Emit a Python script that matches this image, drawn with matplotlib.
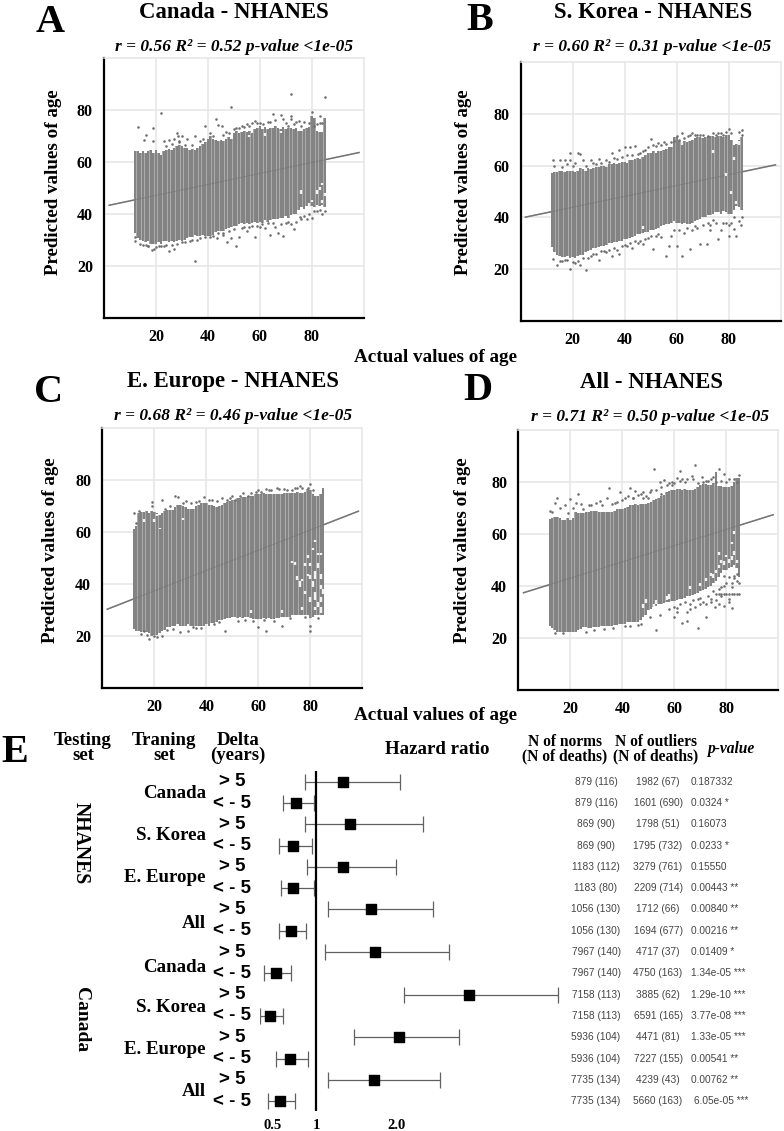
import matplotlib
matplotlib.use("Agg")
import matplotlib.pyplot as plt
import matplotlib.transforms as mtrans
import numpy as np

W, H = 784, 1131
SERIF = "Liberation Serif"
SANS = "Liberation Sans"
GREY = "#838383"

ages = np.arange(12, 86)

a_top = [64, 64, 63.5, 64, 63.5, 64, 64.5, 63.5, 64.5, 63.5, 62.5, 64, 64.5, 65, 64.5, 65.5, 66, 66.5, 66, 65.5,
         65.5, 64.5, 65, 64.5, 65.5, 66, 67, 67.5, 69, 70, 69, 68.5, 68, 68.5, 68, 69, 69.5, 69, 71, 72,
         71, 71.5, 72, 71.5, 72, 71, 72.5, 73, 74, 72.5, 73.5, 72.5, 73, 73, 74, 73, 72.5, 73.5, 72.5, 73,
         73, 72.5, 73, 72, 72, 72.5, 73, 73.5, 77.5, 77, 72, 71.5, 71.5, 77]
a_low = [32.5, 30.5, 30, 29.5, 29, 29.5, 28.5, 28.5, 28.5, 29, 28.5, 29.5, 29.5, 29, 29.5, 29, 29.5, 30, 29.5, 30,
         30.5, 31, 31, 32, 31.5, 31.5, 32, 31.5, 31.5, 31.5, 32, 33, 33.5, 33.5, 33.5, 34, 34.5, 35, 35.5, 35.5,
         36, 36.5, 36, 36.5, 36, 36.5, 37, 36.5, 37, 36.5, 37.5, 37, 37.5, 38, 38, 38, 38.5, 38.5, 39, 38.5,
         39.5, 40, 40, 41.5, 42.5, 42, 43, 42.5, 43, 42.5, 43.5, 43, 43.5, 42.5]
a_out_x = [13, 16, 15.3, 19, 22, 19, 23, 25, 27, 28, 28.5, 30, 32, 35, 39, 43, 44, 45.4, 49, 50, 54, 58, 61.4, 65, 68,
           72, 72, 72, 75, 79, 80, 83, 85, 83.2, 35, 51, 19.4, 18.5, 25, 27, 23, 16, 47.3, 43.5, 52, 55, 58, 64, 69,
           73, 67, 78, 80, 84, 75.5, 12, 12, 14, 17, 21, 30, 33, 36, 41, 46, 49, 53, 56, 60, 62, 66, 70,
           24, 26, 29, 29, 31, 34, 37, 38, 41, 42, 46, 47, 48, 51, 52, 53, 55, 56, 57, 59, 60, 63, 64, 66, 69, 70,
           71, 73, 74, 76, 77, 81, 82, 84,
           15, 17, 20, 22, 24, 26, 28, 31, 34, 37, 39, 42, 44, 46, 48, 50, 54, 57, 59, 61, 63, 65, 68, 71, 72, 74, 76, 77, 79, 81, 82, 83, 85]
a_out_y = [73.6, 70.5, 68.4, 73, 78.8, 68, 68, 68.5, 68.8, 71, 70, 70, 69, 70, 73.8, 76.4, 74.3, 74, 81, 72.6, 73.3,
           75.8, 74.5, 78.4, 78, 86, 77.8, 76.5, 75.8, 75, 79.3, 77.5, 85, 75, 22, 27.6, 26.4, 26, 25.7, 26.6, 27.6,
           27.9, 29, 30.8, 31.2, 33.4, 31.2, 32, 31.5, 34, 32.8, 38, 38.3, 39.8, 38.6, 29.5, 31, 28.5, 27.5, 27.8,
           29, 29.5, 30, 31, 32, 30.5, 34.5, 35, 35, 34.5, 35, 36.5,
           66, 67, 68, 67.5, 66.5, 66.5, 68, 69, 71, 70, 70.5, 71.5, 71, 73, 73, 74, 74.5, 74, 75, 75, 75, 75.5, 75.5,
           76, 76.5, 75, 74, 74.5, 75.5, 74, 75.5, 74, 74.5, 75,
           28, 27.5, 27.3, 27.5, 28, 28, 28.5, 29, 30, 30.5, 31, 31.5, 32.5, 32.5, 33.5, 34, 35, 35.5, 35.5, 36, 36.5,
           36.5, 36, 37, 36, 37, 38, 39, 40, 41, 41, 41.5, 41]
a_gaps = [(83, 49, 50.5), (82, 47.5, 49), (84, 44, 45.5), (79, 42.5, 44), (76, 47.5, 49), (68, 71, 72), (62, 70, 71),
          (56, 69.5, 70.5), (84, 51, 52), (85, 47, 48), (80, 44.5, 45.5)]

b_top = [57, 57.5, 57.5, 58, 58, 57.5, 58, 58, 58, 57.5, 58, 59, 58.5, 58, 59, 58.5, 59, 59.5, 59.5, 60,
         60, 59.5, 60.5, 60.5, 61, 60.5, 61, 61.5, 61.5, 61, 62, 62, 62.5, 63, 62.5, 63.5, 64, 65, 65, 65.5,
         65, 65.5, 65.5, 66, 66.5, 67, 67, 71, 71, 69.5, 69, 69.5, 69, 69.5, 70, 70.5, 71, 71, 70.5, 71,
         71.5, 71.5, 71.5, 71, 71.5, 71.5, 71, 72, 72, 70, 68, 68.5, 70, 71]
b_low = [28.5, 26.5, 25.5, 25, 24.7, 24.7, 25, 24.5, 24.7, 24.5, 25, 25.5, 25.5, 26.5, 27, 27.5, 28, 28, 28.5, 29,
         29, 29.5, 30, 30, 30.5, 30.5, 31, 31, 31.5, 31.7, 32, 32.5, 33, 33.5, 33.7, 34, 34.5, 34.5, 35, 35,
         35.5, 36, 36.5, 37, 37.5, 37.5, 38, 38.5, 38, 38, 37.5, 38, 37.5, 37.5, 38, 38.5, 39, 39.5, 40, 40,
         41, 41, 41.5, 42, 42, 41.5, 42.5, 42, 41.5, 41.4, 43, 44.5, 44, 42.7]
b_out_x = [19, 22, 23, 12.5, 15, 17, 19, 24, 27, 30, 35, 38, 40, 42, 44, 50, 53, 55, 60, 62, 64.4, 67, 70, 76, 80, 85,
           85, 25, 19, 14, 23, 12.5, 30, 35, 38, 56, 62, 51, 57, 60, 65, 69, 71.6, 76, 80, 83, 84.7, 84, 80, 82, 77,
           73, 43, 47, 16, 18, 21, 26, 28, 32, 33, 37, 41, 46, 48, 52, 58, 63, 68, 73, 78,
           13, 16, 18, 20, 21, 25, 28, 29, 31, 33, 34, 36, 37, 39, 41, 43, 45, 46, 47, 48, 49, 51, 52, 54, 56, 58, 59,
           61, 63, 65, 66, 68, 69, 72, 74, 75, 77, 78, 79, 81, 84,
           15, 17, 20, 22, 24, 27, 29, 31, 34, 36, 39, 40, 42, 44, 45, 49, 50, 53, 54, 59, 61, 64, 66, 67, 70, 72, 74, 75, 79, 81, 82, 85]
b_out_y = [65, 64.8, 64.3, 62, 62, 62, 62, 62, 62, 62.6, 65, 66, 67, 67, 67.5, 70.3, 68.8, 69, 71.6, 72.5, 71.6, 72,
           72, 72.6, 74, 73.8, 72, 19.5, 20.2, 21.7, 21.5, 24, 23.4, 25, 25.7, 25, 25, 27.9, 28.8, 28.8, 27.9, 29.8,
           29.8, 31.5, 33, 33, 37, 38.8, 37, 35.6, 35, 35, 28, 29.8, 23, 23.5, 22.5, 24.5, 26, 27, 26.5, 27.5, 29,
           31, 31.5, 33, 33, 34, 36, 37, 38,
           60, 59.5, 60.5, 60, 61, 60, 61, 60.5, 61, 62, 61.5, 63, 62.5, 63.5, 64, 64, 64.5, 65, 65.5, 66, 67, 68, 67.5,
           68, 68.5, 69, 69.5, 70, 70.5, 72, 72.5, 72, 72, 71.5, 72.5, 72, 72.5, 72, 73, 72.5, 73,
           23, 23.5, 22.8, 23, 24.5, 25, 26, 27, 27.5, 28, 29, 29.5, 30, 31, 30, 32, 33, 33.5, 32.5, 35, 35, 36, 35,
           36.5, 37, 38, 39, 38, 38, 38, 40, 40]
b_gaps = [(81, 49, 50), (83, 45, 46.5), (82, 62, 63.5), (79, 56, 57), (62, 68, 69), (47, 35.5, 36.5), (74, 65, 66), (84, 68, 69.5)]

c_top = [61, 62.5, 67.5, 67.7, 67.7, 68, 67.5, 68, 67.7, 67.5, 66.5, 67.5, 68, 68.4, 68.5, 68.5, 69.5, 70.5, 70.3, 70,
         69.5, 69, 69, 69, 70, 70.5, 71, 71, 71, 70.5, 70.5, 70, 69.7, 70, 70.5, 71, 71.5, 72, 72.5, 72.5,
         73, 73, 73.5, 73.5, 74, 74, 74, 74.5, 74.5, 74.5, 75, 74.8, 74.8, 74.5, 74.8, 74.5, 74.5, 74.5, 75, 75,
         75, 75, 75, 75.5, 75, 75, 75.5, 76.7, 76, 74.8, 74, 74, 74.5, 77]
c_low = [22.7, 22, 22, 21.7, 21.5, 21.5, 21, 20, 20.5, 20.2, 21, 22, 22.5, 23.4, 23.5, 24, 24, 24.5, 24, 24,
         24, 24.5, 24, 24, 24, 24, 24, 24, 24.5, 24, 25, 25, 25.5, 26, 26, 26.5, 27, 27, 27.2, 27.2,
         27, 27.2, 27, 27.2, 27.2, 27, 26.5, 26.5, 26.6, 26.6, 27, 26.6, 27, 26.6, 26.6, 27, 27, 27.2, 27.2, 27.2,
         27.5, 28, 28, 27.9, 27.9, 28, 28, 28, 27, 27.5, 28, 28, 28, 28]
c_out_x = [19.2, 19.2, 23, 28, 29, 32, 39, 48, 50, 60, 64, 67, 70, 74, 76, 80, 18, 20, 23, 30, 33, 47, 60, 63, 69, 80,
           80, 83, 35, 16, 15, 17, 21, 25, 27, 36, 38, 43, 45, 52, 55, 58, 62, 66, 72, 78,
           12, 13, 14, 24, 26, 31, 34, 36, 37, 41, 42, 44, 46, 49, 51, 53, 54, 56, 57, 59, 61, 63, 65, 68, 71, 73, 75, 77, 79, 81]
c_out_y = [71.4, 70, 72.3, 74, 73.3, 72, 73.6, 72.3, 73.8, 76, 76, 77, 76.5, 77, 77.7, 78.5, 18.7, 20, 20, 21.7, 22,
           22, 23.6, 22, 24, 24, 22, 27, 23.3, 21.8, 20.8, 20.5, 19.8, 22.5, 22.8, 23, 23.2, 24.8, 25.2, 25.8, 26,
           25.8, 26, 25.8, 27, 27.5,
           67.5, 63.5, 68, 69, 70, 71, 71, 71.5, 72, 72.5, 72.5, 72, 73, 73, 72.5, 74, 75, 74, 75, 75.5, 75.5, 76.5,
           76, 76.5, 76, 76, 77, 77, 77, 76]
c_gaps = [(74, 47.5, 48.5), (75, 41.5, 43), (76, 39, 41), (77, 41, 42), (78, 36, 37.5), (78, 47, 48), (79, 43, 44),
          (79, 50, 51), (80, 33, 35), (80, 42, 43.5), (80, 47, 48), (81, 39, 41), (81, 53, 54), (82, 30, 31),
          (82, 34, 37), (82, 42, 45), (82, 56, 57), (83, 31, 33), (83, 46, 48), (83, 51, 52), (84, 29, 31),
          (84, 33, 35), (84, 38, 39.5), (84, 42, 44), (84, 51, 52), (85, 36, 38), (77, 30, 31), (69, 29, 30), (57, 29, 30),
          (73, 48, 49), (20, 64, 65), (21, 66, 67), (31, 64.5, 65.5), (16, 64, 65), (22, 61, 61.7)]

d_top = [65.8, 66, 66.5, 66.5, 66, 65.5, 65.5, 66, 65.2, 66, 68.5, 68, 68, 67.9, 68.5, 68.5, 69, 69, 69, 68.5,
         68.5, 68.5, 68.5, 68.5, 68.5, 69, 69.5, 69.5, 69.8, 70, 70.5, 71, 71, 71.7, 71, 71.5, 71.5, 71.7, 72, 72.5,
         73, 73.6, 74, 74.5, 75, 76.2, 76.5, 77, 77, 77.5, 77.5, 77, 77.5, 77, 76.9, 77, 77.5, 78, 79, 79.4,
         79.4, 79, 78.8, 79.5, 84, 78.5, 78.4, 78, 78, 78, 78.5, 80, 81.4, 81.4]
d_low = [24.8, 24, 23, 22.5, 22.2, 22.5, 22.2, 22.5, 22.2, 22.2, 22.5, 23, 23.5, 24.2, 24.2, 24, 24, 24.2, 24.2, 24.2,
         24.5, 24.5, 24.8, 24.8, 24.8, 25, 25, 25.2, 25.5, 25.5, 26, 26, 26, 26, 26, 27, 28, 29, 30.6, 31,
         32, 32.5, 33, 33, 33.5, 34, 34, 34.4, 34.4, 34.5, 35, 35, 35.5, 36, 36, 36.5, 37, 37.5, 38, 38.5,
         39, 39.5, 40, 41, 42, 43.5, 45, 46, 46, 47, 47.5, 48, 47, 43.4]
d_out_x = [15, 14, 20, 23, 35, 39, 43, 45, 52, 54.5, 56, 61, 62, 64, 68, 66.7, 70.5, 77, 79, 85, 75, 50.6, 49, 31.4, 34,
           53, 69, 63, 60, 65, 72, 82, 79, 75.6, 54.5, 50.6, 47, 43, 36.5, 14, 17, 26, 29, 33, 41, 46, 58, 61, 66, 70,
           74, 77, 81, 12, 13, 18, 22, 24, 27, 37, 44, 48, 55, 59,
           16, 19, 21, 25, 28, 30, 32, 36, 38, 40, 41, 42, 44, 46, 47, 48, 50, 51, 53, 55, 57, 58, 59, 60, 62, 63, 65,
           67, 69, 71, 72, 73, 74, 76, 78, 80, 81, 83, 84,
           60, 61, 62, 64, 65, 66, 67, 68, 69, 70, 71, 72, 73, 74, 75, 76, 77, 78, 78, 79, 80, 81, 82, 83, 84, 79, 82, 81, 83, 84, 85]
d_out_y = [73.7, 72, 73.3, 75.4, 77.7, 76, 77.7, 76.7, 85, 80, 80.8, 81.4, 84.2, 80, 86.5, 82.4, 82, 85, 83, 82.7,
           81.8, 76, 74.7, 72.8, 73.7, 23, 23.8, 25.6, 28, 26.7, 28.2, 31.5, 32.4, 31.8, 29, 28, 25.4, 24.5, 24, 22,
           21.8, 22.5, 23, 23.5, 24.5, 25, 31, 30, 31, 33, 34, 33, 34, 69, 68.5, 71, 72, 71.5, 71, 72, 74, 74, 75.5, 79,
           70, 68, 70, 69.5, 71, 72, 71, 71.5, 72.5, 73, 74, 74.5, 74, 75, 75.5, 76, 74, 77, 77, 78, 79, 79.5, 80,
           79.5, 80.5, 81, 81, 81, 79.5, 80, 80.5, 80.5, 81, 80, 80.5, 80, 81, 81, 80,
           32, 31.5, 33, 34, 30, 33, 34.5, 32, 35, 35.5, 34, 33, 36, 35, 38, 34.5, 39, 36, 39.5, 40, 41, 35, 39.5, 43,
           42, 44, 41, 43.5, 44, 44.5, 41]
d_gaps = [(48, 31.5, 33), (49, 33.5, 35), (52, 32, 33), (53, 33, 34.5), (57, 34.5, 36), (58, 35, 37), (66, 39, 40),
          (70, 40, 41), (72, 42, 43), (74, 44, 45), (75, 43, 44.5), (76, 45, 46), (77, 47, 48), (78, 49, 50),
          (79, 48, 49.5), (80, 51, 52), (81, 49, 50.5), (82, 50, 51.5), (83, 52, 53.5), (84, 49, 50), (82, 56, 57),
          (77, 52, 53), (83, 60, 61)]

line_a = ([2, 98.2], [43.3, 63.6])
line_b = ([1.9, 98], [40.1, 60.3])
line_c = ([1.9, 98.5], [30.3, 68])
line_d = ([2, 98], [37.4, 67.4])

titles = ["Canada - NHANES", "S. Korea - NHANES", "E. Europe - NHANES", "All - NHANES"]
stats = ["r = 0.56 R² = 0.52 p-value <1e-05", "r = 0.60 R² = 0.31 p-value <1e-05",
         "r = 0.68 R² = 0.46 p-value <1e-05", "r = 0.71 R² = 0.50 p-value <1e-05"]

training_sets = ["Canada", "S. Korea", "E. Europe", "All"] * 2
hr = [1.33, 0.75, 1.42, 0.71, 1.33, 0.71, 1.68, 0.68, 1.73, 0.49, 2.91, 0.42, 2.03, 0.67, 1.72, 0.54]
hr_low = [0.86, 0.58, 0.86, 0.53, 0.88, 0.56, 1.14, 0.53, 1.11, 0.35, 2.10, 0.30, 1.47, 0.50, 1.15, 0.40]
hr_high = [2.04, 0.975, 2.33, 0.95, 1.99, 0.975, 2.46, 0.87, 2.66, 0.68, 4.02, 0.58, 2.78, 0.89, 2.55, 0.73]
norms = ["879 (116)", "879 (116)", "869 (90)", "869 (90)", "1183 (112)", "1183 (80)", "1056 (130)", "1056 (130)",
         "7967 (140)", "7967 (140)", "7158 (113)", "7158 (113)", "5936 (104)", "5936 (104)", "7735 (134)", "7735 (134)"]
outliers = ["1982 (67)", "1601 (690)", "1798 (51)", "1795 (732)", "3279 (761)", "2209 (714)", "1712 (66)", "1694 (677)",
            "4717 (37)", "4750 (163)", "3885 (62)", "6591 (165)", "4471 (81)", "7227 (155)", "4239 (43)", "5660 (163)"]
p_values = ["0.187332", "0.0324 *", "0.16073", "0.0233 *", "0.15550", "0.00443 **", "0.00840 **", "0.00216 **",
            "0.01409 *", "1.34e-05 ***", "1.29e-10 ***", "3.77e-08 ***", "1.33e-05 ***", "0.00541 **", "0.00762 **",
            "6.05e-05 ***"]

fig = plt.figure(figsize=(W / 100, H / 100), dpi=100, facecolor="white")


def put(x, y, s, size, family=SERIF, weight="bold", style="normal", color="black", ha="center", rotation=0, ls=0.85):
    fig.text(x / W, 1 - y / H, s, fontsize=size, family=family, weight=weight, style=style, color=color,
             ha=ha, va="center", rotation=rotation, linespacing=ls, rotation_mode="anchor" if rotation else None)


def scatter_panel(box, top, low, out_x, out_y, gaps, line):
    l, t, r, b = box
    ax = fig.add_axes([l / W, 1 - b / H, (r - l) / W, (b - t) / H])
    ax.set_xlim(0, 100)
    ax.set_ylim(0, 100)
    ax.set_xticks([20, 40, 60, 80])
    ax.set_yticks([20, 40, 60, 80])
    ax.grid(color="#e6e6e6", lw=1.1, zorder=0)
    ax.set_axisbelow(True)
    for side in ["top", "right"]:
        ax.spines[side].set_color("#e6e6e6")
        ax.spines[side].set_linewidth(1.1)
    for side in ["left", "bottom"]:
        ax.spines[side].set_linewidth(1.6)
    ax.tick_params(length=0, pad=8)
    for lab in ax.get_xticklabels() + ax.get_yticklabels():
        lab.set_family(SERIF)
        lab.set_weight("bold")
        lab.set_fontsize(11.5)
    ax.plot(line[0], line[1], color="#777777", lw=1.1, zorder=2)
    ax.fill_between(ages, low, top, step="mid", color="#adadad", lw=0, zorder=3)
    ax.vlines(ages, low, top, color=GREY, lw=1.45, zorder=3)
    ax.plot(line[0], line[1], color="#737373", lw=0.8, alpha=0.5, zorder=4)
    for age, y0, y1 in gaps:
        ax.vlines(age, y0, y1, color="white", lw=1.7, alpha=0.9, zorder=4)
    ax.scatter(out_x, out_y, s=3.4, color="#6e6e6e", linewidths=0, zorder=5)
    return ax


scatter_panel((104, 58, 363.7, 317.7), a_top, a_low, a_out_x, a_out_y, a_gaps, line_a)
scatter_panel((520.5, 62, 780.7, 321), b_top, b_low, b_out_x, b_out_y, b_gaps, line_b)
scatter_panel((102.3, 428, 362.3, 688), c_top, c_low, c_out_x, c_out_y, c_gaps, line_c)
d_x = d_out_x + [76, 77, 78, 79, 80, 81, 82, 83, 84, 85]
d_y = d_out_y + [37] * 10
scatter_panel((518.3, 430, 778.3, 690), d_top, d_low, d_x, d_y, d_gaps, line_d)

put(50, 23, "A", 29)
put(480, 21, "B", 29)
put(49, 393, "C", 29)
put(478, 390, "D", 29)
put(15, 752, "E", 29)

for (x, y), s in zip([(234, 13), (653, 13), (233, 381), (652, 382)], titles):
    put(x, y, s, 16.4)
for (x, y), s in zip([(234, 47), (652, 47), (233, 416), (650, 417)], stats):
    put(x, y, s, 12.5, style="italic")
for x, y in [(53, 182), (464, 182), (51, 550), (463, 550)]:
    put(x, y, "Predicted values of age", 13.7, rotation=90)
put(436, 357, "Actual values of age", 13.8)
put(435, 716, "Actual values of age", 13.8)

# panel E, hazard ratios
ax = fig.add_axes([260 / W, 1 - 1111 / H, 310 / W, 340 / H])
rows = np.arange(16)
ax.set_xlim(0.294, 4.17)
ax.set_ylim(15.46, -0.5)
ax.errorbar(hr, rows, xerr=[np.array(hr) - np.array(hr_low), np.array(hr_high) - np.array(hr)], fmt="none",
            ecolor="#606060", elinewidth=0.9, capsize=6, capthick=0.9, zorder=2)
ax.scatter(hr, rows, marker="s", s=58, color="black", zorder=3)
ax.axvline(1, color="black", lw=1.6, zorder=4)
for side in ["top", "right", "left", "bottom"]:
    ax.spines[side].set_visible(False)
ax.set_yticks([])
ax.set_xticks([0.5, 1, 2])
ax.set_xticklabels(["0.5", "1", "2.0"], family=SERIF, weight="bold", fontsize=10.5)
ax.tick_params(length=0, pad=6)
ax.patch.set_alpha(0)
first = ax.get_xticklabels()[0]
first.set_transform(first.get_transform() + mtrans.ScaledTranslation(-4 / 100, 0, fig.dpi_scale_trans))

put(83, 748, "Testing\nset", 13.5)
put(164, 748, "Traning\nset", 13.5)
put(238, 748, "Delta\n(years)", 13.5)
put(437, 749, "Hazard ratio", 13.6)
put(565, 749, "N of norms\n(N of deaths)", 11.2)
put(656, 749, "N of outliers\n(N of deaths)", 11.2)
put(731, 749, "p-value", 11.2, style="italic")
put(81, 843, "NHANES", 14.2, rotation=270)
put(81, 1020, "Canada", 14, rotation=270)

train_y = [793, 835, 878, 923, 967, 1008, 1050, 1091]
for s, y in zip(training_sets, train_y):
    put(206, y, s, 13.6, ha="right")
for i in rows:
    y = 781.7 + 21.3 * i
    put(232, y, "> 5" if i % 2 == 0 else "< - 5", 13.5, family=SANS)
    put(596, y, norms[i], 7.3, family=SANS, weight="normal", color="#444444")
    put(658, y, outliers[i], 7.3, family=SANS, weight="normal", color="#444444")
    put(691 if i < 15 else 694, y, p_values[i], 7.3, family=SANS, weight="normal", color="#444444", ha="left")

fig.savefig("out.png", dpi=100)
